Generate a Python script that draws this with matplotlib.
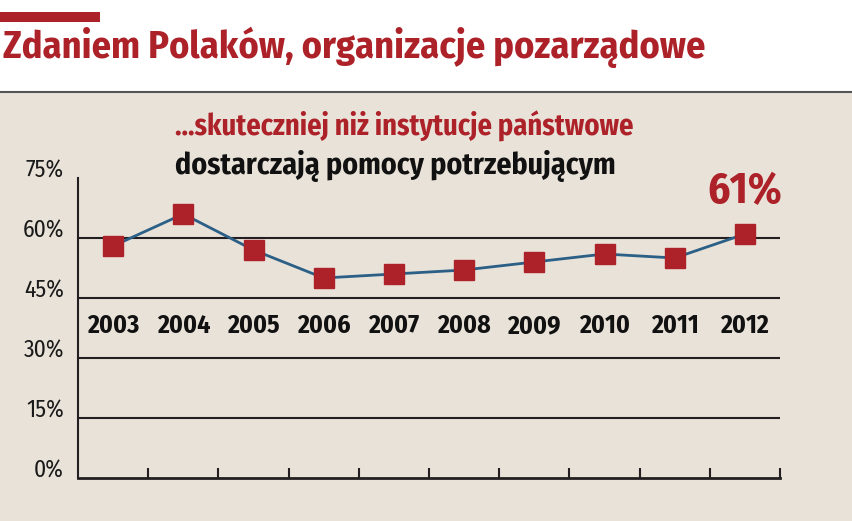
import matplotlib.pyplot as plt
from matplotlib.patches import Rectangle
from matplotlib.transforms import blended_transform_factory, ScaledTranslation

# dane
lata = ['2003', '2004', '2005', '2006', '2007', '2008', '2009', '2010', '2011', '2012']
wartosci = [58, 66, 57, 50, 51, 52, 54, 56, 55, 61]
y_ticks = [0, 15, 30, 45, 60, 75]
y_labels = ['0%', '15%', '30%', '45%', '60%', '75%']

czerwony = '#AD2129'
tlo = '#E9E2D9'
narrow = ['Fira Sans Condensed', 'Roboto Condensed', 'Encode Sans Condensed', 'DejaVu Sans']

fig = plt.figure(figsize=(8.52, 5.21), dpi=100)
fig.patch.set_facecolor('white')

# tlo panelu i belka
fig.patches.append(Rectangle((0, 0), 1, 1 - 92 / 521, transform=fig.transFigure,
                             facecolor=tlo, edgecolor='none', zorder=-2))
fig.lines.append(plt.Line2D([0, 1], [1 - 92 / 521] * 2, transform=fig.transFigure,
                            color='#555555', lw=1.5, zorder=-1))
fig.patches.append(Rectangle((0, 1 - 22 / 521), 100 / 852, 10 / 521, transform=fig.transFigure,
                             facecolor=czerwony, edgecolor='none', zorder=-1))

fig.text(0.003, 1 - 47 / 521, 'Zdaniem Polaków, organizacje pozarządowe', color=czerwony,
         fontsize=27.5, fontweight='bold', family=narrow, va='center', ha='left')

ax = fig.add_axes([78 / 852, 1 - 478 / 521, 702 / 852, 300 / 521])
ax.set_facecolor('none')
x = list(range(len(lata)))
ax.set_xlim(-0.5, len(lata) - 0.5)
ax.set_ylim(0, 75)

for yv in y_ticks[1:-1]:
    ax.axhline(yv, color='#231F20', lw=1.5, zorder=1)

ax.plot(x, wartosci, color='#2B5F86', lw=2, zorder=2)
ax.plot(x, wartosci, 's', color=czerwony, markersize=14, zorder=3)

for s in ['top', 'right']:
    ax.spines[s].set_visible(False)
ax.spines['left'].set_linewidth(1.5)
ax.spines['bottom'].set_linewidth(2)
ax.spines['left'].set_color('#231F20')
ax.spines['bottom'].set_color('#231F20')

ax.set_xticks([i + 0.5 for i in x])
ax.set_xticklabels([])
ax.tick_params(axis='x', direction='in', length=7, width=1.5, color='#231F20')
ax.set_yticks([])

# etykiety osi Y lekko nad liniami
tr = blended_transform_factory(ax.transAxes, ax.transData) + \
    ScaledTranslation(-14 / 100, 7 / 100, fig.dpi_scale_trans)
for yv, lbl in zip(y_ticks, y_labels):
    ax.text(0, yv, lbl, transform=tr, ha='right', va='center', fontsize=17,
            fontweight='normal', family=narrow, color='#1A1A1A')

for i, rok in enumerate(lata):
    ax.text(i, 38, rok, ha='center', va='center', fontsize=18.5, fontweight='bold',
            family=narrow, color='#111111')

ax.text(len(lata) - 1, 71.5, f'{wartosci[-1]}%', ha='center', va='center', fontsize=31,
        fontweight='bold', family=narrow, color=czerwony)

fig.text(404 / 852, 1 - 126 / 521, '...skuteczniej niż instytucje państwowe', color=czerwony,
         fontsize=20.5, fontweight='bold', family=narrow, ha='center', va='center')
fig.text(395 / 852, 1 - 166 / 521, 'dostarczają pomocy potrzebującym', color='#111111',
         fontsize=21.5, fontweight='bold', family=narrow, ha='center', va='center')

fig.savefig('out.png', dpi=100, facecolor=fig.get_facecolor())
